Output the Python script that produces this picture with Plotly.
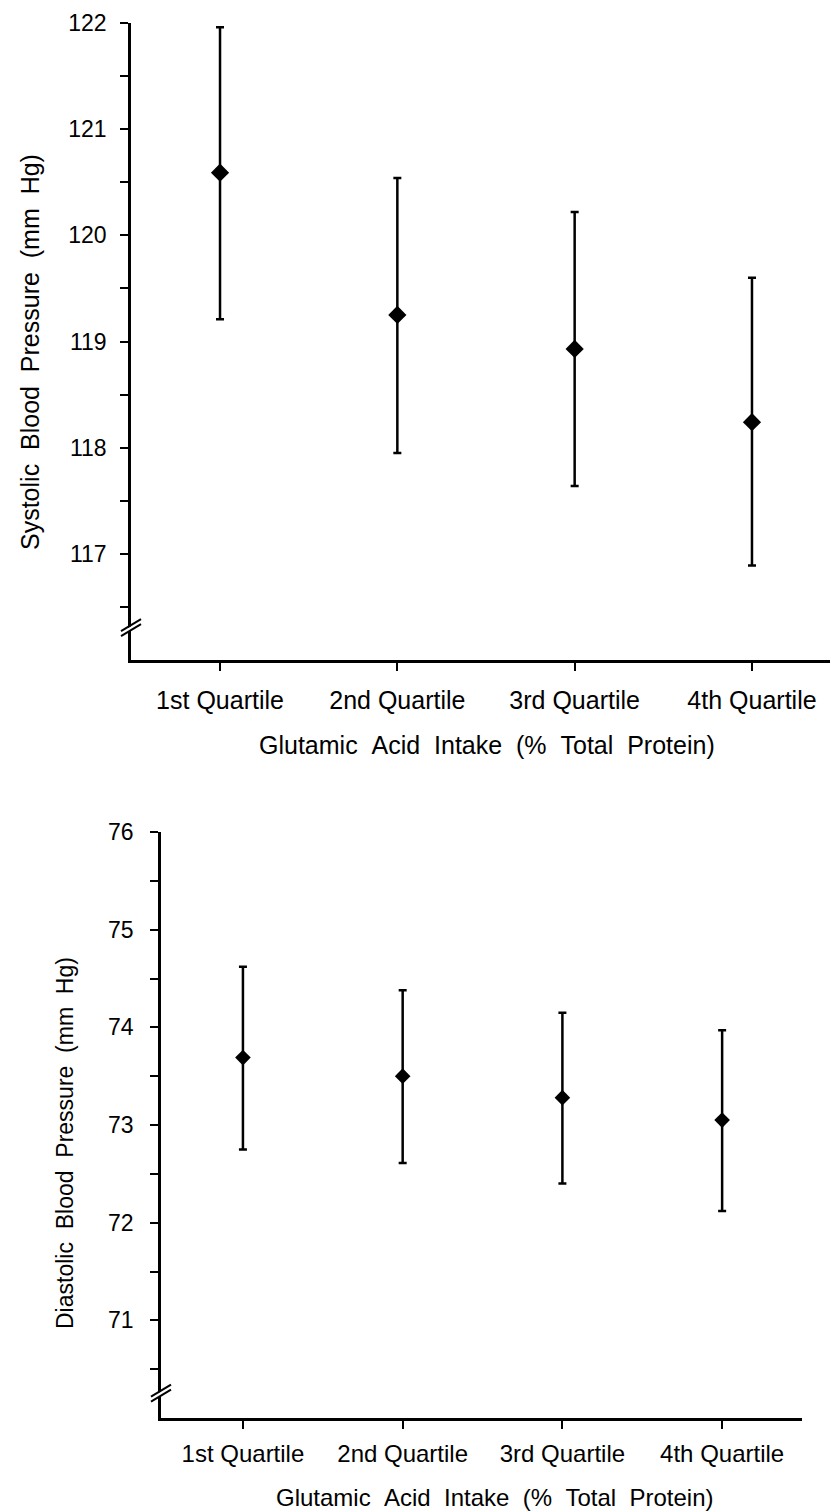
import plotly.graph_objects as go

categories = ["1st Quartile", "2nd Quartile", "3rd Quartile", "4th Quartile"]

sbp_mean = [120.59, 119.25, 118.93, 118.24]
sbp_upper = [121.96, 120.54, 120.22, 119.60]
sbp_lower = [119.21, 117.95, 117.64, 116.89]

dbp_mean = [73.69, 73.50, 73.28, 73.05]
dbp_upper = [74.62, 74.38, 74.15, 73.97]
dbp_lower = [72.75, 72.61, 72.40, 72.12]

sbp_ticks = [117, 118, 119, 120, 121, 122]
sbp_minor = [116.5, 117.5, 118.5, 119.5, 120.5, 121.5]
dbp_ticks = [71, 72, 73, 74, 75, 76]
dbp_minor = [70.5, 71.5, 72.5, 73.5, 74.5, 75.5]

FONT = "Arial, Liberation Sans, sans-serif"
W, H = 830, 1512
S = " \u00a0"  # widened word gap
xpos = list(range(len(categories)))

fig = go.Figure()


def add_series(mean, upper, lower, xa, ya, msize):
    fig.add_trace(go.Scatter(
        x=xpos, y=mean, mode="markers", xaxis=xa, yaxis=ya,
        marker=dict(symbol="diamond", size=msize, color="black"),
        error_y=dict(type="data", symmetric=False,
                     array=[u - m for u, m in zip(upper, mean)],
                     arrayminus=[m - l for m, l in zip(mean, lower)],
                     color="black", thickness=2.5, width=4),
        showlegend=False, hoverinfo="skip"))


add_series(sbp_mean, sbp_upper, sbp_lower, "x", "y", 14)
add_series(dbp_mean, dbp_upper, dbp_lower, "x2", "y2", 12)


def px_x(p):
    return p / W


def px_y(p):
    return 1 - p / H


def axis(fs, **kw):
    d = dict(showgrid=False, zeroline=False, showline=True, linecolor="black",
             linewidth=2.5, ticks="outside", tickcolor="black", tickwidth=2,
             ticklen=8, automargin=False,
             tickfont=dict(family=FONT, size=fs, color="black"))
    d.update(kw)
    return d


def minor(vals):
    return dict(tickmode="array", tickvals=vals, ticks="outside",
                ticklen=8, tickwidth=2, tickcolor="black", showgrid=False)


fig.update_layout(
    width=W, height=H,
    margin=dict(l=0, r=0, t=0, b=0, pad=0, autoexpand=False),
    paper_bgcolor="white", plot_bgcolor="white",
    xaxis=axis(25, domain=[px_x(131), 1.0], range=[-0.502, 3.44],
               tickmode="array", tickvals=xpos, ticktext=categories,
               anchor="y", ticklabelstandoff=8),
    yaxis=axis(23, domain=[px_y(660), px_y(23)], range=[116, 122],
               tickmode="array", tickvals=sbp_ticks, anchor="x",
               ticklabelstandoff=9, minor=minor(sbp_minor)),
    xaxis2=axis(24, domain=[px_x(161), px_x(802)], range=[-0.513, 3.5],
                tickmode="array", tickvals=xpos, ticktext=categories,
                anchor="y2", ticklabelstandoff=4),
    yaxis2=axis(23, domain=[px_y(1418), px_y(832)], range=[70, 76],
                tickmode="array", tickvals=dbp_ticks, anchor="x2",
                ticklabelstandoff=12, minor=minor(dbp_minor)),
)

# axis break marks
for xd, yd, yb in [("x domain", "y", 116.3), ("x2 domain", "y2", 70.25)]:
    fig.add_shape(type="path", xref=xd, yref=yd, xsizemode="pixel", ysizemode="pixel",
                  xanchor=0, yanchor=yb,
                  path="M -10,-4 L 10,8 L 10,4 L -10,-8 Z",
                  fillcolor="white", line=dict(width=0))
    for off in (-2, 3):
        fig.add_shape(type="line", xref=xd, yref=yd, xsizemode="pixel", ysizemode="pixel",
                      xanchor=0, yanchor=yb, x0=-10, x1=10, y0=-8 + off + 2, y1=4 + off + 2,
                      line=dict(color="black", width=2))

# axis titles
xtitle = S.join(["Glutamic", "Acid", "Intake", "(%", "Total", "Protein)"])
fig.add_annotation(text=xtitle, xref="paper", yref="paper",
                   x=px_x(487), y=px_y(745), showarrow=False, xanchor="center", yanchor="middle",
                   font=dict(family=FONT, size=25, color="black"))
fig.add_annotation(text=S.join(["Systolic", "Blood", "Pressure", "(mm", "Hg)"]),
                   xref="paper", yref="paper",
                   x=px_x(30), y=px_y(352), showarrow=False, xanchor="center", yanchor="middle",
                   textangle=-90, font=dict(family=FONT, size=25, color="black"))
fig.add_annotation(text=xtitle, xref="paper", yref="paper",
                   x=px_x(495), y=px_y(1497), showarrow=False, xanchor="center", yanchor="middle",
                   font=dict(family=FONT, size=24, color="black"))
fig.add_annotation(text=S.join(["Diastolic", "Blood", "Pressure", "(mm", "Hg)"]),
                   xref="paper", yref="paper",
                   x=px_x(65), y=px_y(1143), showarrow=False, xanchor="center", yanchor="middle",
                   textangle=-90, font=dict(family=FONT, size=23, color="black"))

fig.write_html("out.html", config={"displayModeBar": False},
               post_script="document.body.style.margin='0px';")
